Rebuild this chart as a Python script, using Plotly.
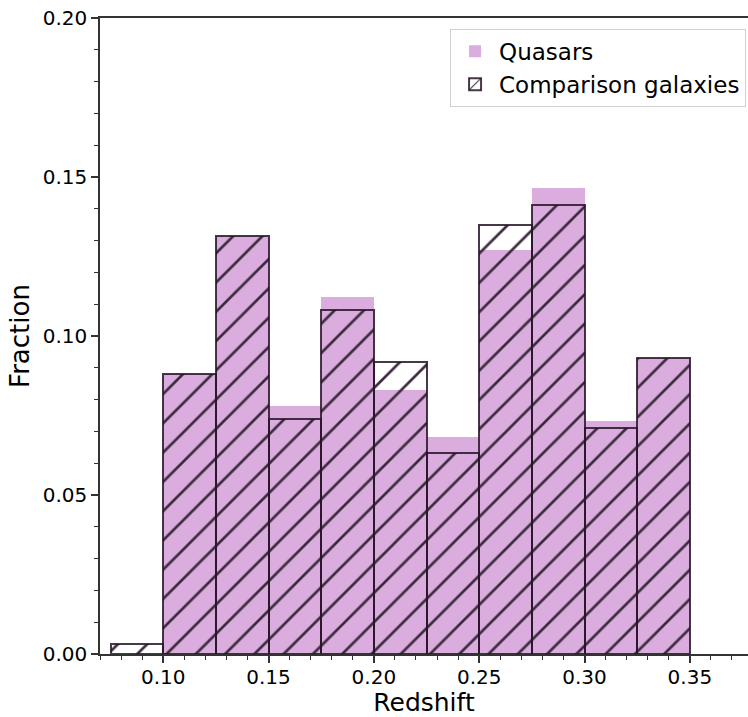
import plotly.graph_objects as go

# Redshift histogram bins (width 0.025) and normalised fractions per bin
bin_left = [0.075, 0.100, 0.125, 0.150, 0.175, 0.200, 0.225, 0.250, 0.275, 0.300, 0.325]
bin_width = 0.025
quasar_frac = [0.0, 0.088, 0.1315, 0.078, 0.1123, 0.083, 0.0683, 0.127, 0.1465, 0.0734, 0.093]
galaxy_frac = [0.0031, 0.088, 0.1315, 0.0739, 0.1082, 0.0918, 0.0632, 0.135, 0.1412, 0.071, 0.093]

x_ticks = [0.10, 0.15, 0.20, 0.25, 0.30, 0.35]
y_ticks = [0.00, 0.05, 0.10, 0.15, 0.20]

centers = [b + bin_width / 2 for b in bin_left]
FONT = "DejaVu Sans, Verdana, sans-serif"

fig = go.Figure()

fig.add_trace(go.Bar(
    x=centers, y=quasar_frac, width=[bin_width] * len(centers),
    name="Quasars",
    marker=dict(color="#daadde", line=dict(width=0)),
))

fig.add_trace(go.Bar(
    x=centers, y=galaxy_frac, width=[bin_width] * len(centers),
    name="Comparison galaxies",
    marker=dict(
        color="rgba(0,0,0,0)",
        line=dict(color="rgba(40,20,40,0.85)", width=2),
        pattern=dict(shape="/", size=20.7, solidity=0.13,
                     fgcolor="#3c2a3e", fgopacity=1, bgcolor="rgba(0,0,0,0)"),
    ),
))

axis_common = dict(
    showline=True, linecolor="#333", linewidth=1.5,
    ticks="outside", ticklen=7, tickwidth=1.5, tickcolor="#333",
    showgrid=False, zeroline=False,
    tickfont=dict(family=FONT, size=20, color="black"),
    tickformat=".2f",
    minor=dict(ticks="outside", ticklen=4, tickwidth=1, tickcolor="#333",
               dtick=0.01, showgrid=False),
)

fig.update_layout(
    width=748, height=717,
    margin=dict(l=100, r=0, t=18, b=63, autoexpand=False),
    plot_bgcolor="white", paper_bgcolor="white",
    barmode="overlay", bargap=0,
    font=dict(family=FONT, color="black"),
    xaxis=dict(range=[0.07, 0.3776], tickvals=x_ticks, mirror=True,
               automargin=True, ticklabelstandoff=-3,
               title=dict(text="Redshift", font=dict(family=FONT, size=25), standoff=1),
               **axis_common),
    yaxis=dict(range=[0, 0.2], tickvals=y_ticks, automargin=False,
               title=dict(text="Fraction", font=dict(family=FONT, size=26), standoff=6),
               **axis_common),
    legend=dict(x=0.997, y=0.983, xanchor="right", yanchor="top",
                font=dict(family=FONT, size=23),
                bordercolor="#d0d0d0", borderwidth=1, bgcolor="rgba(255,255,255,0.9)",
                itemwidth=38),
    showlegend=True,
)

fig.write_html("out.html")
